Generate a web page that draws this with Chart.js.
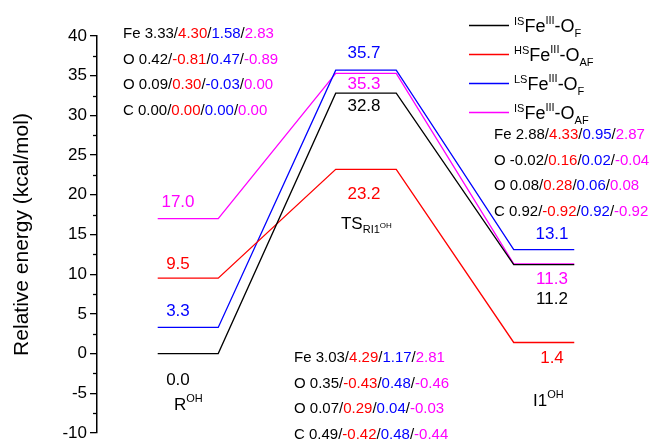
<!DOCTYPE html>
<html>
<head>
<meta charset="utf-8">
<script src="https://cdn.jsdelivr.net/npm/chart.js@4"></script>
<style>
  html, body { margin: 0; padding: 0; background: #ffffff; }
  #wrap { width: 654px; height: 440px; position: relative; }
</style>
</head>
<body>
<div id="wrap"><canvas id="c"></canvas></div>
<script>
// Reaction stages along the path
const stages = ['R', 'TS', 'I1'];

// Relative energies (kcal/mol) of each spin state at R, TS, I1
const energyIS_F  = [0.0, 32.8, 11.2];
const energyHS_AF = [9.5, 23.2, 1.4];
const energyLS_F  = [3.3, 35.7, 13.1];
const energyIS_AF = [17.0, 35.3, 11.3];

// y-axis ticks
const yMin = -10, yMax = 40, yStep = 5;

// Spin densities (IS-F / HS-AF / LS-F / IS-AF)
const spinAtoms = ['Fe', 'O', 'O', 'C'];
const spinR  = [[3.33, 4.30, 1.58, 2.83], [0.42, -0.81, 0.47, -0.89], [0.09, 0.30, -0.03, 0.00], [0.00, 0.00, 0.00, 0.00]];
const spinTS = [[3.03, 4.29, 1.17, 2.81], [0.35, -0.43, 0.48, -0.46], [0.07, 0.29, 0.04, -0.03], [0.49, -0.42, 0.48, -0.44]];
const spinI1 = [[2.88, 4.33, 0.95, 2.87], [-0.02, 0.16, 0.02, -0.04], [0.08, 0.28, 0.06, 0.08], [0.92, -0.92, 0.92, -0.92]];

// ---- styling ----
const colors = ['#000000', '#ff0000', '#0000ff', '#ff00ff'];
const FONT = '"Liberation Sans", Arial, sans-serif';
const series = [energyIS_F, energyHS_AF, energyLS_F, energyIS_AF];
const legendSpin = ['IS', 'HS', 'LS', 'IS'];
const legendSub = ['F', 'AF', 'F', 'AF'];
const plateauHalf = 0.17;           // half width of a level, in stage units
// vertical offset (px) of each value label from its level
const labelDy = [
  [27, 13, 35],
  [-14, 25, 16],
  [-16, -17, -15],
  [-16, 11, 15]
];
const stageLabelDx = [-10, -2, 8];

function levelPoints(vals) {
  const pts = [];
  vals.forEach((v, i) => {
    pts.push({ x: i - plateauHalf, y: v });
    pts.push({ x: i + plateauHalf, y: v });
  });
  return pts;
}

// draw a run of text pieces: {t, size, dy, color}
function drawRich(ctx, x, y, parts, align) {
  let total = 0;
  parts.forEach(p => { ctx.font = p.size + 'px ' + FONT; total += ctx.measureText(p.t).width; });
  let cx = align === 'center' ? x - total / 2 : (align === 'right' ? x - total : x);
  ctx.textAlign = 'left';
  ctx.textBaseline = 'alphabetic';
  parts.forEach(p => {
    ctx.font = p.size + 'px ' + FONT;
    ctx.fillStyle = p.color || '#000';
    ctx.fillText(p.t, cx, y + (p.dy || 0));
    cx += ctx.measureText(p.t).width;
  });
}

function spinLine(atom, vals) {
  const parts = [{ t: atom + ' ', size: 15, color: '#000' }];
  vals.forEach((v, k) => {
    parts.push({ t: v.toFixed(2), size: 15, color: colors[k] });
    if (k < vals.length - 1) parts.push({ t: '/', size: 15, color: '#000' });
  });
  return parts;
}

const annotate = {
  id: 'annotate',
  afterDraw(chart) {
    const ctx = chart.ctx;
    const xs = chart.scales.x, ys = chart.scales.y;
    ctx.save();

    // minor ticks
    ctx.strokeStyle = '#000';
    ctx.lineWidth = 1.3;
    for (let v = yMin + yStep / 2; v < yMax; v += yStep) {
      const py = Math.round(ys.getPixelForValue(v)) + 0.5;
      ctx.beginPath();
      ctx.moveTo(ys.right - 4, py);
      ctx.lineTo(ys.right, py);
      ctx.stroke();
    }

    // value labels
    ctx.textAlign = 'center';
    ctx.textBaseline = 'middle';
    ctx.font = '17px ' + FONT;
    series.forEach((vals, s) => {
      vals.forEach((v, i) => {
        ctx.fillStyle = colors[s];
        const px = xs.getPixelForValue(i) + stageLabelDx[i];
        const py = ys.getPixelForValue(v) + labelDy[s][i];
        ctx.fillText(v.toFixed(1), px, py);
      });
    });

    // stage labels
    drawRich(ctx, xs.getPixelForValue(0) - 14, 410, [
      { t: 'R', size: 17 }, { t: 'OH', size: 11, dy: -8 }], 'left');
    drawRich(ctx, xs.getPixelForValue(1) - 25, 229, [
      { t: 'TS', size: 17 }, { t: 'RI1', size: 11, dy: 4 }, { t: 'OH', size: 8, dy: -1 }], 'left');
    drawRich(ctx, xs.getPixelForValue(2) - 11, 406, [
      { t: 'I1', size: 17 }, { t: 'OH', size: 11, dy: -8 }], 'left');

    // spin density blocks
    const blocks = [
      { data: spinR, x: 123, y: 38 },
      { data: spinI1, x: 494, y: 139 },
      { data: spinTS, x: 294, y: 362 }
    ];
    blocks.forEach(b => {
      b.data.forEach((vals, r) => {
        drawRich(ctx, b.x, b.y + r * 25.5, spinLine(spinAtoms[r], vals), 'left');
      });
    });

    // legend
    const legY = [25, 54, 83, 112];
    legY.forEach((ly, k) => {
      ctx.strokeStyle = colors[k];
      ctx.lineWidth = 1.3;
      ctx.beginPath();
      ctx.moveTo(469, ly + 0.5);
      ctx.lineTo(509, ly + 0.5);
      ctx.stroke();
      drawRich(ctx, 514, ly + 7, [
        { t: legendSpin[k], size: 11, dy: -7 },
        { t: 'Fe', size: 18 },
        { t: 'III', size: 11, dy: -8 },
        { t: '-O', size: 18 },
        { t: legendSub[k], size: 11, dy: 5 }
      ], 'left');
    });

    ctx.restore();
  }
};

const ctx = document.getElementById('c');
new Chart(ctx, {
  type: 'line',
  data: {
    datasets: series.map((vals, s) => ({
      label: legendSpin[s] + 'Fe(III)-O' + legendSub[s],
      data: levelPoints(vals),
      borderColor: colors[s],
      borderWidth: 1.3,
      pointRadius: 0,
      tension: 0,
      fill: false
    }))
  },
  options: {
    responsive: true,
    maintainAspectRatio: false,
    animation: false,
    layout: { padding: { left: 0, right: 0, top: 36, bottom: 7 } },
    plugins: { legend: { display: false }, tooltip: { enabled: false } },
    scales: {
      x: {
        type: 'linear',
        display: false,
        min: -0.511,
        max: 2.618
      },
      y: {
        type: 'linear',
        min: yMin,
        max: yMax,
        ticks: {
          stepSize: yStep,
          color: '#000',
          font: { family: FONT, size: 17 },
          padding: 3
        },
        grid: {
          drawOnChartArea: false,
          drawTicks: true,
          tickLength: 7,
          color: '#000',
          lineWidth: 1.3
        },
        border: { display: true, color: '#000', width: 1.5 },
        title: {
          display: true,
          text: 'Relative energy (kcal/mol)',
          color: '#000',
          font: { family: FONT, size: 21 },
          padding: { top: 10, bottom: 0 }
        },
        afterFit(scale) {
          scale.width = 97;
          scale.paddingTop = 0;
          scale.paddingBottom = 0;
        }
      }
    }
  },
  plugins: [annotate]
});
</script>
</body>
</html>
